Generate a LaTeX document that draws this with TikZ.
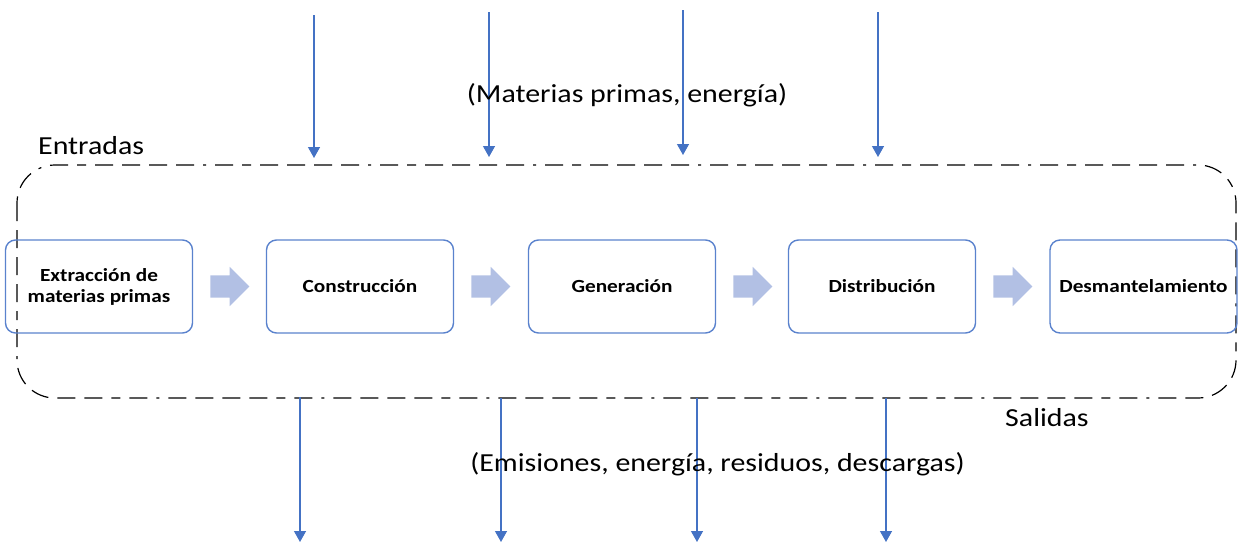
\documentclass[tikz,border=0pt]{standalone}
\usepackage{fontspec}
\setmainfont{Carlito}
\newfontfamily\lblfont[FakeStretch=1.15]{Carlito}
\usetikzlibrary{arrows.meta,shapes.arrows}
\definecolor{boxblue}{RGB}{90,130,205}
\definecolor{arrblue}{RGB}{68,114,196}
\definecolor{fatblue}{RGB}{178,192,228}
\tikzset{
  x=1pt,y=-1pt,
  stage/.style={draw=boxblue,line width=1.4pt,rounded corners=10pt,minimum width=187pt,minimum height=93pt,align=center,font=\lblfont\bfseries\fontsize{18.5}{21}\selectfont,inner sep=0pt},
  fat/.style={single arrow,fill=fatblue,draw=none,minimum height=39pt,single arrow head extend=8.5pt,single arrow tip angle=90,inner xsep=0pt,inner ysep=11pt},
  flow/.style={draw=arrblue,line width=1.3pt,-{Triangle[length=11pt,width=12pt]}},
  lbl/.style={font=\lblfont\fontsize{26}{29}\selectfont,inner sep=0pt}
}
\begin{document}
\begin{tikzpicture}
\useasboundingbox (0,0) rectangle (1239,544);
% dashed frame
\draw[line width=1.2pt,dash pattern=on 18pt off 9pt on 18pt off 9pt on 18pt off 9pt on 18pt off 9pt on 9pt off 9pt on 18pt off 9pt on 3pt off 9pt,rounded corners=38pt] (17,165) rectangle (1236,398);
% stages
\node[stage] (s1) at (99,286.5) {Extracción de\\materias primas};
\node[stage] (s2) at (360,286.5) {Construcción};
\node[stage] (s3) at (622,286.5) {Generación};
\node[stage] (s4) at (882,286.5) {Distribución};
\node[stage] (s5) at (1143.5,286.5) {Desmantelamiento};
% fat arrows
\foreach \a/\b in {s1/s2,s2/s3,s3/s4,s4/s5}{
  \node[fat,anchor=tail] (f\a) at ([xshift=17pt]\a.east) {};
}
% inputs
\coordinate (t1) at (314,15); \coordinate (e1) at (314,158);
\coordinate (t2) at (489,12); \coordinate (e2) at (489,157);
\coordinate (t3) at (683,10); \coordinate (e3) at (683,155);
\coordinate (t4) at (878,12); \coordinate (e4) at (878,157);
\foreach \i in {1,2,3,4}{\draw[flow] (t\i) -- (e\i);}
% outputs
\coordinate (b1) at (300,397); \coordinate (d1) at (300,542);
\coordinate (b2) at (501,398); \coordinate (d2) at (501,542);
\coordinate (b3) at (697,398); \coordinate (d3) at (697,542);
\coordinate (b4) at (886,398); \coordinate (d4) at (886,542);
\foreach \i in {1,2,3,4}{\draw[flow] (b\i) -- (d\i);}
% labels
\node[lbl] (in) at (627,95) {(Materias primas, energía)};
\node[lbl,anchor=west] (ent) at (38,146) {Entradas};
\node[lbl,anchor=west] (sal) at (1005,418) {Salidas};
\node[lbl] (out) at (717.5,464) {(Emisiones, energía, residuos, descargas)};
\end{tikzpicture}
\end{document}
